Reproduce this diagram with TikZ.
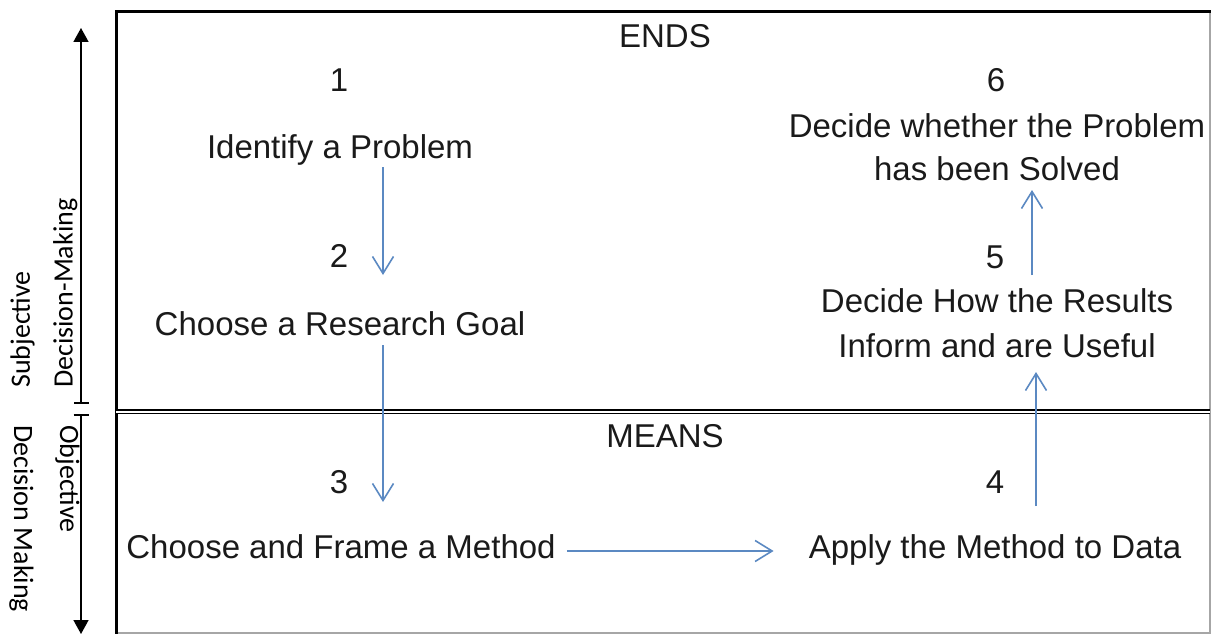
\documentclass[tikz,border=0pt]{standalone}
\usepackage{fontspec}
\setmainfont{Liberation Sans}
\newfontfamily\calibfont{Carlito}
\usetikzlibrary{arrows.meta}
\definecolor{flowblue}{HTML}{5B89C2}
\definecolor{inkc}{HTML}{1A1A1A}
\begin{document}
\begin{tikzpicture}[x=1pt,y=-1pt,
  lbl/.style={anchor=base, inner sep=0pt, font=\fontsize{33}{40}\selectfont, text=inkc},
  side/.style={anchor=base west, inner sep=0pt, font=\calibfont\fontsize{28}{34}\selectfont, text=black},
  flow/.style={draw=flowblue, line width=1.6pt, -{Straight Barb[length=17pt,width=21pt,line width=1.6pt]}},
  axisarrow/.style={line width=1.6pt, {Bar[width=15pt,line width=1.6pt]}-{Triangle[width=15pt,length=14pt]}}
]
\useasboundingbox (0,0) rectangle (1211,634);
% frame
\draw[gray!70, line width=1.2pt] (1210,12) -- (1210,633) -- (116,633);
\draw[black, line width=3pt] (116,634) -- (116,12) -- (1211,12);
\draw[black, line width=1.2pt, double=white, double distance=2pt] (116,411.5) -- (1210,411.5);
% axis
\coordinate (axmid1) at (81,404);
\coordinate (axtop) at (81,28);
\coordinate (axmid2) at (81,414);
\coordinate (axbot) at (81,634);
\draw[axisarrow] (axmid1) -- (axtop);
\draw[axisarrow] (axmid2) -- (axbot);
\node[side, rotate=90] (subj) at (30,388) {Subjective};
\node[side, rotate=90] (dm1) at (72.5,388) {Decision-Making};
\node[side, rotate=-90] (obj) at (60,425) {Objective};
\node[side, rotate=-90] (dm2) at (14,425) {Decision Making};
% headers
\node[lbl] (ends) at (665,48) {ENDS};
\node[lbl] (means) at (665,447) {MEANS};
% left column
\node[lbl] (n1) at (339,92) {1};
\node[lbl] (t1) at (340,158) {Identify a Problem};
\node[lbl] (n2) at (339,267) {2};
\node[lbl] (t2) at (340,335) {Choose a Research Goal};
\node[lbl] (n3) at (339,493) {3};
\node[lbl] (t3) at (341,558) {Choose and Frame a Method};
% right column
\node[lbl] (n6) at (996,92) {6};
\node[lbl] (t6a) at (997,137) {Decide whether the Problem};
\node[lbl] (t6b) at (997,180) {has been Solved};
\node[lbl] (n5) at (995,268) {5};
\node[lbl] (t5a) at (997,312) {Decide How the Results};
\node[lbl] (t5b) at (997,357) {Inform and are Useful};
\node[lbl] (n4) at (995,493) {4};
\node[lbl] (t4) at (995,558) {Apply the Method to Data};
% flow arrows
\draw[flow] ([shift={(43,9)}]t1.base) -- ([shift={(44,8)}]n2.base);
\draw[flow] ([shift={(43,10)}]t2.base) -- ([shift={(44,9)}]n3.base);
\draw[flow] ([shift={(11,-7)}]t3.base east) -- ([shift={(-35,-7)}]t4.base west);
\draw[flow] ([shift={(41,13)}]n4.base) -- ([shift={(39,15)}]t5b.base);
\draw[flow] ([shift={(37,7)}]n5.base) -- ([shift={(35,10)}]t6b.base);
\end{tikzpicture}
\end{document}
